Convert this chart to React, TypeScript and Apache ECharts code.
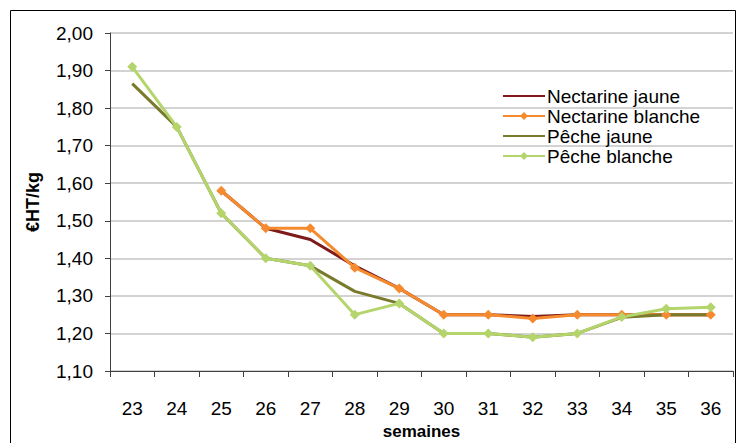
import React, { useEffect, useRef } from "react";
import * as echarts from "echarts";

const weeks = ["23", "24", "25", "26", "27", "28", "29", "30", "31", "32", "33", "34", "35", "36"];
const nectarineJaune = [null, null, 1.58, 1.48, 1.45, 1.38, 1.32, 1.25, 1.25, 1.245, 1.25, 1.25, 1.25, 1.25];
const nectarineBlanche = [null, null, 1.58, 1.48, 1.48, 1.375, 1.32, 1.25, 1.25, 1.24, 1.25, 1.25, 1.25, 1.25];
const pecheJaune = [1.865, 1.75, 1.52, 1.4, 1.38, 1.312, 1.28, 1.2, 1.2, 1.19, 1.2, 1.243, 1.25, 1.25];
const pecheBlanche = [1.91, 1.75, 1.52, 1.4, 1.38, 1.25, 1.28, 1.2, 1.2, 1.19, 1.2, 1.244, 1.266, 1.27];

const FONT = "Liberation Sans, Arial, sans-serif";

export default function App() {
  const ref = useRef<HTMLDivElement>(null);
  useEffect(() => {
    const chart = echarts.init(ref.current!, undefined, { renderer: "svg" });
    const lineSeries = (name: string, data: (number | null)[], color: string, marker: boolean) => ({
      name,
      type: "line",
      data,
      symbol: marker ? "diamond" : "none",
      showSymbol: marker,
      symbolSize: 10,
      lineStyle: { color, width: 3 },
      itemStyle: { color },
      connectNulls: false,
    });
    chart.setOption({
      animation: false,
      backgroundColor: "#ffffff",
      graphic: [
        {
          type: "rect",
          shape: { x: 10.5, y: 10.5, width: 725, height: 445 },
          style: { fill: "none", stroke: "#000000", lineWidth: 1 },
          silent: true,
          z: -1,
        },
      ],
      grid: { left: 110, right: 5, top: 33, bottom: 72, outerBoundsMode: "none", containLabel: false },
      legend: {
        left: 497,
        top: 81,
        orient: "vertical",
        itemWidth: 42,
        itemHeight: 10,
        itemGap: 0,
        textStyle: { fontFamily: FONT, fontSize: 19, lineHeight: 20, color: "#000", padding: [0, 0, 0, -3] },
        data: [
          { name: "Nectarine jaune", itemStyle: { opacity: 0 } },
          { name: "Nectarine blanche" },
          { name: "Pêche jaune", itemStyle: { opacity: 0 } },
          { name: "Pêche blanche" },
        ],
      },
      xAxis: {
        type: "category",
        data: weeks,
        boundaryGap: true,
        name: "semaines",
        nameLocation: "middle",
        nameGap: 51,
        nameTextStyle: { fontFamily: FONT, fontSize: 17, fontWeight: "bold", color: "#000" },
        axisLine: { lineStyle: { color: "#404040", width: 1 } },
        axisTick: { show: true, length: 6, lineStyle: { color: "#404040" } },
        axisLabel: { fontFamily: FONT, fontSize: 19, color: "#000", margin: 28 },
        splitLine: { show: false },
      },
      yAxis: {
        type: "value",
        min: 1.1,
        max: 2.0,
        interval: 0.1,
        name: "€HT/kg",
        nameLocation: "middle",
        nameGap: 68,
        nameRotate: 90,
        nameTextStyle: { fontFamily: FONT, fontSize: 18, fontWeight: "bold", color: "#000" },
        axisLine: { show: true, lineStyle: { color: "#404040", width: 1 } },
        axisTick: { show: true, length: 5, lineStyle: { color: "#404040" } },
        axisLabel: {
          fontFamily: FONT,
          fontSize: 19,
          color: "#000",
          margin: 17,
          formatter: (v: number) => v.toFixed(2).replace(".", ","),
        },
        splitLine: { show: true, lineStyle: { color: "#c4c4c4", width: 1.5 } },
      },
      series: [
        lineSeries("Nectarine jaune", nectarineJaune, "#7f1a1a", false),
        lineSeries("Nectarine blanche", nectarineBlanche, "#f58a2e", true),
        lineSeries("Pêche jaune", pecheJaune, "#7a7a2c", false),
        lineSeries("Pêche blanche", pecheBlanche, "#b4d46c", true),
      ],
    });
    return () => chart.dispose();
  }, []);
  return <div ref={ref} style={{ width: 738, height: 443, position: "absolute", left: 0, top: 0 }} />;
}
